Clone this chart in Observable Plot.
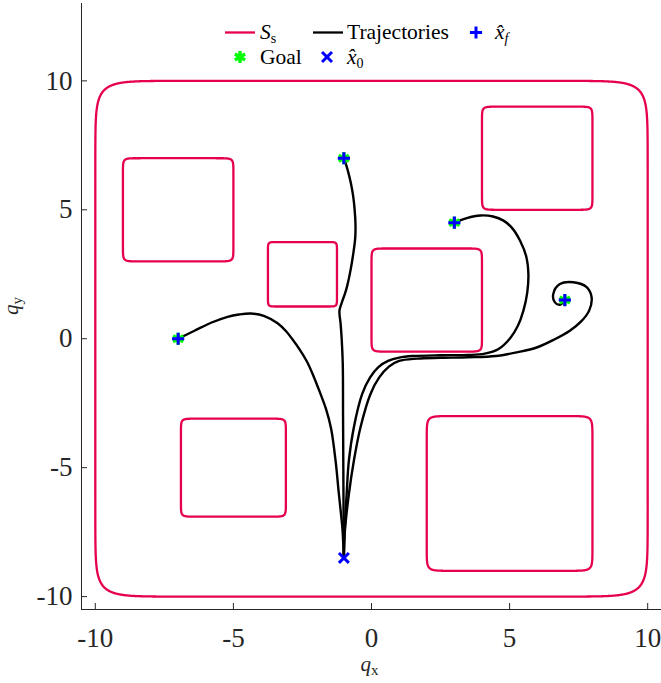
<!DOCTYPE html>
<html><head><meta charset="utf-8">
<script src="https://cdn.jsdelivr.net/npm/d3@7"></script>
<script src="https://cdn.jsdelivr.net/npm/@observablehq/plot@0.6"></script>
<style>body{margin:0;background:#fff} svg{display:block}</style>
</head><body><div id="chart"></div>
<script>
const xTicks = [-10, -5, 0, 5, 10];
const yTicks = [-10, -5, 0, 5, 10];

// safe-set boundary and obstacles (rounded squares): center, half sizes
const obsCx = [0, -7, -2.5, 2, 6, -5, 5];
const obsCy = [0, 5, 2.5, 1.5, 7, -5, -6];
const obsHw = [10, 2, 1.25, 2, 2, 1.9, 3];
const obsHh = [10, 2, 1.25, 2, 2, 1.9, 3];
const obsExp = 20;

const x0 = [[-1, -8.5]];
const goals = [[-7, 0], [-1, 7], [3, 4.5], [7, 1.5]];
const xf = [[-7, 0], [-1, 7], [3, 4.5], [7, 1.5]];

const trajA = [[-1.00,-8.50],[-1.02,-8.00],[-1.05,-7.40],[-1.09,-6.94],[-1.18,-6.03],[-1.30,-4.74],[-1.46,-3.50],[-1.64,-2.75],[-1.86,-2.10],[-2.08,-1.50],[-2.32,-0.92],[-2.60,-0.42],[-2.85,-0.04],[-3.10,0.30],[-3.40,0.60],[-3.90,0.89],[-4.37,0.98],[-4.80,0.94],[-5.21,0.85],[-5.81,0.62],[-6.41,0.31],[-7.00,0.00]];
const trajB = [[-1.00,-8.50],[-1.01,-7.00],[-1.02,-5.00],[-1.03,-3.00],[-1.04,-1.00],[-1.08,0.00],[-1.12,0.60],[-1.16,1.09],[-1.06,1.45],[-0.96,1.75],[-0.88,2.05],[-0.76,2.65],[-0.66,3.30],[-0.59,3.90],[-0.58,4.45],[-0.61,5.00],[-0.66,5.50],[-0.74,6.00],[-0.84,6.45],[-0.92,6.75],[-1.00,7.00]];
const trajC = [[-1.00,-8.50],[-0.99,-8.00],[-0.97,-7.40],[-0.90,-6.03],[-0.82,-4.74],[-0.64,-3.44],[-0.34,-2.15],[-0.05,-1.50],[0.25,-1.10],[0.60,-0.86],[1.00,-0.73],[1.50,-0.67],[2.50,-0.64],[3.50,-0.63],[4.10,-0.58],[4.60,-0.40],[5.02,0.02],[5.30,0.50],[5.50,1.09],[5.64,1.80],[5.68,2.51],[5.60,3.20],[5.38,3.80],[5.10,4.28],[4.78,4.58],[4.40,4.74],[3.94,4.78],[3.45,4.68],[3.00,4.50]];
const trajD = [[-1.00,-8.50],[-0.99,-8.00],[-0.96,-7.40],[-0.82,-6.03],[-0.64,-4.74],[-0.40,-3.44],[-0.04,-2.15],[0.28,-1.50],[0.63,-1.08],[1.00,-0.86],[1.65,-0.77],[2.50,-0.74],[3.50,-0.72],[4.50,-0.67],[5.30,-0.52],[5.98,-0.34],[6.60,-0.04],[7.18,0.31],[7.60,0.68],[7.88,1.09],[7.97,1.60],[7.79,2.00],[7.31,2.19],[6.82,2.12],[6.58,1.73],[6.64,1.41],[6.82,1.32],[7.00,1.50]];

const RED = "#e6004d", GREEN = "#00ff00", BLUE = "#0000ff", AX = "#262626";

// outlines of the rounded-square sets (superellipse |x|^n+|y|^n=1)
const shapes = [];
const N = 720;
obsCx.forEach((cx, i) => {
  const pts = [];
  for (let k = 0; k < N; k++) {
    const t = 2 * Math.PI * k / N, c = Math.cos(t), s = Math.sin(t);
    const sc = Math.abs(c) < 1e-12 ? 0 : c, ss = Math.abs(s) < 1e-12 ? 0 : s;
    pts.push({id: i,
      x: cx + obsHw[i] * Math.sign(sc) * Math.pow(Math.abs(sc), 2 / obsExp),
      y: obsCy[i] + obsHh[i] * Math.sign(ss) * Math.pow(Math.abs(ss), 2 / obsExp)});
  }
  pts.push({...pts[0]});
  shapes.push(...pts);
});
const traj = [];
[trajA, trajB, trajC, trajD].forEach((tr, i) => tr.forEach(([x, y]) => traj.push({id: i, x, y})));

const W = 661, H = 683, mL = 81, mR = 0, mT = 3, mB = 74;
const xDom = [-10.5, 10.5], yDom = [-10.5, 13];
const fmt = d => String(d);

const plot = Plot.plot({
  width: W, height: H,
  marginLeft: mL, marginRight: mR, marginTop: mT, marginBottom: mB,
  x: {domain: xDom},
  y: {domain: yDom},
  style: {fontFamily: "'Liberation Serif', 'Times New Roman', serif", fontSize: "27px", color: AX, background: "white"},
  marks: [
    Plot.axisX({ticks: xTicks, tickFormat: fmt, tickSize: 0, tickPadding: 18, label: null, fontSize: 27}),
    Plot.axisY({ticks: yTicks, tickFormat: fmt, tickSize: 0, tickPadding: 9, label: null, fontSize: 27}),
    Plot.tickX(xTicks, {x: d => d, stroke: AX, insetTop: (H - mB - mT) - 6}),
    Plot.tickY(yTicks, {y: d => d, stroke: AX, insetRight: (W - mL - mR) - 6}),
    Plot.ruleX([xDom[0]], {stroke: AX, strokeWidth: 1}),
    Plot.ruleY([yDom[0]], {stroke: AX, strokeWidth: 1}),
    Plot.line(shapes, {x: "x", y: "y", z: "id", stroke: RED, strokeWidth: 2.3}),
    Plot.line(traj, {x: "x", y: "y", z: "id", stroke: "black", strokeWidth: 2.4, curve: "catmull-rom"}),
    Plot.dot(goals, {x: d => d[0], y: d => d[1], symbol: "asterisk", r: 5.6, stroke: GREEN, strokeWidth: 3.4}),
    Plot.dot(xf, {x: d => d[0], y: d => d[1], symbol: "plus", r: 4, stroke: BLUE, strokeWidth: 3}),
    Plot.dot(x0, {x: d => d[0], y: d => d[1], symbol: "times", r: 4.6, stroke: BLUE, strokeWidth: 3})
  ]
});
document.getElementById("chart").appendChild(plot);

const svg = d3.select(plot);
const serif = "'Liberation Serif', 'Times New Roman', serif";

// axis labels
const lx = svg.append("text").attr("x", 369.5).attr("y", 671).attr("text-anchor", "middle")
  .attr("font-family", serif).attr("fill", AX);
lx.append("tspan").attr("font-style", "italic").attr("font-size", 21).text("q");
lx.append("tspan").attr("font-size", 15).attr("dy", 4).text("x");
const ly = svg.append("text").attr("transform", "translate(18,306) rotate(-90)").attr("text-anchor", "middle")
  .attr("font-family", serif).attr("fill", AX);
ly.append("tspan").attr("font-style", "italic").attr("font-size", 21).text("q");
ly.append("tspan").attr("font-size", 15).attr("dy", 4).text("y");

// legend
const lg = svg.append("g").attr("font-family", serif).attr("font-size", 21.5).attr("fill", "black").attr("text-anchor", "start");
const sym = (type, r) => d3.symbol(type, Math.PI * r * r)();
lg.append("line").attr("x1", 225).attr("x2", 255).attr("y1", 32.5).attr("y2", 32.5).attr("stroke", RED).attr("stroke-width", 2.3);
const t1 = lg.append("text").attr("x", 260).attr("y", 39);
t1.append("tspan").attr("font-style", "italic").text("S");
t1.append("tspan").attr("font-size", 14).attr("dy", 4).text("s");
lg.append("line").attr("x1", 313).attr("x2", 343).attr("y1", 32.5).attr("y2", 32.5).attr("stroke", "black").attr("stroke-width", 2.3);
lg.append("text").attr("x", 347).attr("y", 39).text("Trajectories");
lg.append("path").attr("d", sym(d3.symbolPlus, 4)).attr("transform", "translate(476,32.5)").attr("fill", "none").attr("stroke", BLUE).attr("stroke-width", 3);
const t3 = lg.append("text").attr("x", 495).attr("y", 39);
t3.append("tspan").attr("font-style", "italic").text("x\u0302");
t3.append("tspan").attr("font-style", "italic").attr("font-size", 14).attr("dy", 4).text("f");
lg.append("path").attr("d", sym(d3.symbolAsterisk, 5.6)).attr("transform", "translate(240,57)").attr("fill", "none").attr("stroke", GREEN).attr("stroke-width", 3.4);
lg.append("text").attr("x", 260).attr("y", 63.5).text("Goal");
lg.append("path").attr("d", sym(d3.symbolTimes, 4.6)).attr("transform", "translate(327,57)").attr("fill", "none").attr("stroke", BLUE).attr("stroke-width", 3);
const t5 = lg.append("text").attr("x", 347).attr("y", 63.5);
t5.append("tspan").attr("font-style", "italic").text("x\u0302");
t5.append("tspan").attr("font-size", 14).attr("dy", 4).text("0");
</script>
</body></html>
